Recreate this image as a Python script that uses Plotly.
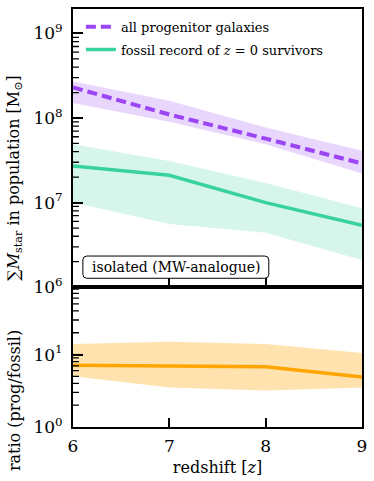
import math
import plotly.graph_objects as go
from plotly.subplots import make_subplots

# redshift bins
z = [6, 7, 8, 9]

# all progenitor galaxies (median + spread)
prog_med = [2.3e8, 1.1e8, 5.7e7, 2.9e7]
prog_lo = [1.5e8, 9.0e7, 4.9e7, 2.2e7]
prog_hi = [2.7e8, 1.6e8, 7.7e7, 4.1e7]

# fossil record of z=0 survivors
fos_med = [2.7e7, 2.1e7, 1.0e7, 5.4e6]
fos_lo = [1.0e7, 5.6e6, 4.4e6, 2.1e6]
fos_hi = [4.9e7, 3.1e7, 1.7e7, 8.6e6]

# ratio prog/fossil
rat_med = [7.1, 6.9, 6.8, 4.9]
rat_lo = [5.0, 3.5, 3.2, 3.5]
rat_hi = [14.0, 15.0, 14.0, 10.5]

# tick labels
top_major = [1e6, 1e7, 1e8, 1e9]
top_labels = ["10<sup>6</sup>", "10<sup>7</sup>", "10<sup>8</sup>", "10<sup>9</sup>"]
bot_major = [1, 10]
bot_labels = ["10<sup>0</sup>", "10<sup>1</sup>"]
top_minor = [m * 10 ** e for e in range(6, 10) for m in range(2, 10)]
bot_minor = [m * 10 ** e for e in range(0, 2) for m in range(2, 10)]

W, H = 374, 481
L, R, T, B = 73, 366, 7, 430
SPLIT = 288.5
FONT = "DejaVu Serif, Liberation Serif, serif"

def px(x):
    return (x - L) / (R - L)

def py(y):
    return (B - y) / (B - T)

purple = "#9b45f5"
green = "#38d39c"
orange = "#ffa500"

top_range = [6, 6 + (SPLIT - T) / 85.6]
bot_range = [0, (B - SPLIT) / 73.3]

fig = make_subplots(rows=2, cols=1, shared_xaxes=True, vertical_spacing=0,
                    row_heights=[1 - py(SPLIT), py(SPLIT)])

def band(lo, hi, fill, row):
    fig.add_trace(go.Scatter(x=z, y=hi, mode="lines", line=dict(width=0),
                             showlegend=False, hoverinfo="skip"), row=row, col=1)
    fig.add_trace(go.Scatter(x=z, y=lo, mode="lines", line=dict(width=0),
                             fill="tonexty", fillcolor=fill,
                             showlegend=False, hoverinfo="skip"), row=row, col=1)

band(prog_lo, prog_hi, "rgba(155,69,245,0.22)", 1)
band(fos_lo, fos_hi, "rgba(56,211,156,0.2)", 1)
band(rat_lo, rat_hi, "rgba(255,165,0,0.32)", 2)

fig.add_trace(go.Scatter(x=z, y=prog_med, mode="lines", name="all progenitor galaxies",
                         legend="legend",
                         line=dict(color=purple, width=4, dash="10px,5px")), row=1, col=1)
fig.add_trace(go.Scatter(x=z, y=fos_med, mode="lines",
                         name="fossil record of <i>z</i> = 0 survivors", legend="legend2",
                         line=dict(color=green, width=3.5)), row=1, col=1)
fig.add_trace(go.Scatter(x=z, y=rat_med, mode="lines", showlegend=False,
                         line=dict(color=orange, width=3.5)), row=2, col=1)

axis_common = dict(showline=True, linecolor="black", linewidth=2, mirror=True,
                   ticks="inside", tickcolor="black", tickwidth=1.5, showgrid=False,
                   zeroline=False, layer="above traces")

fig.update_xaxes(range=[6, 9], tickvals=z, ticklen=9, ticklabelstandoff=3,
                 tickfont=dict(family=FONT, size=17, color="black"), **axis_common)
fig.update_xaxes(showticklabels=False, row=1, col=1)
fig.update_xaxes(title=dict(text="redshift [<i>z</i>]", standoff=6,
                            font=dict(family=FONT, size=16, color="black")), row=2, col=1)

fig.update_yaxes(type="log", ticklen=10, ticklabelstandoff=5,
                 tickfont=dict(family=FONT, size=17, color="black"), **axis_common)
fig.update_yaxes(range=top_range, tickvals=top_major, ticktext=top_labels, row=1, col=1)
fig.update_yaxes(range=bot_range, tickvals=bot_major, ticktext=bot_labels, row=2, col=1)

# tick marks as path shapes (log minors + majors on the left spine, x ticks at the bottom)
def yticks_path(vals, rng, length):
    parts = []
    for v in vals:
        f = (math.log10(v) - rng[0]) / (rng[1] - rng[0])
        if 0 < f < 1:
            parts.append(f"M 0,{f:.5f} L {length / (R - L):.5f},{f:.5f}")
    return " ".join(parts)

tick_line = dict(color="black", width=1.3)
for yref, rng, minors, majors, h_px in (("y domain", top_range, top_minor, top_major, SPLIT - T),
                                          ("y2 domain", bot_range, bot_minor, bot_major, B - SPLIT)):
    fig.add_shape(type="path", xref="paper", yref=yref,
                  path=yticks_path(minors, rng, 6), line=tick_line)
    fig.add_shape(type="path", xref="paper", yref=yref,
                  path=yticks_path(majors, rng, 10), line=tick_line)
    xref = "x" if yref == "y domain" else "x2"
    xpath = " ".join(f"M {v},0 L {v},{9 / h_px:.5f}" for v in z[1:-1])
    fig.add_shape(type="path", xref=xref, yref=yref, path=xpath, line=tick_line)

leg = dict(xanchor="left", yanchor="middle", bgcolor="rgba(0,0,0,0)",
           font=dict(family=FONT, size=13, color="black"))
fig.update_layout(
    width=W, height=H,
    margin=dict(l=L, r=W - R, t=T, b=H - B),
    plot_bgcolor="white", paper_bgcolor="white",
    font=dict(family=FONT, color="black"),
    legend=dict(x=px(81), y=py(25), **leg),
    legend2=dict(x=px(81), y=py(48), **leg),
)

# y titles
fig.add_annotation(text="∑<i>M</i><sub>star</sub> in population [M<sub>⊙</sub>]",
                   xref="paper", yref="paper", x=px(14), y=py(178), textangle=-90,
                   xanchor="center", yanchor="middle",
                   showarrow=False, font=dict(family=FONT, size=16))
fig.add_annotation(text="ratio (prog/fossil)",
                   xref="paper", yref="paper", x=px(14), y=py(403), textangle=-90,
                   xanchor="center", yanchor="middle",
                   showarrow=False, font=dict(family=FONT, size=16))

# rounded label box
bx0, bx1, by0, by1, r = 83, 271.5, 257, 279.5, 4
rx, ry = r / (R - L), r / (B - T)
x0, x1, y0, y1 = px(bx0), px(bx1), py(by1), py(by0)
path = (f"M {x0+rx},{y0} L {x1-rx},{y0} Q {x1},{y0} {x1},{y0+ry} "
        f"L {x1},{y1-ry} Q {x1},{y1} {x1-rx},{y1} L {x0+rx},{y1} "
        f"Q {x0},{y1} {x0},{y1-ry} L {x0},{y0+ry} Q {x0},{y0} {x0+rx},{y0} Z")
fig.add_shape(type="path", path=path, xref="paper", yref="paper",
              line=dict(color="black", width=1), fillcolor="white")
fig.add_annotation(text="isolated (MW-analogue)", xref="paper", yref="paper",
                   x=px((bx0 + bx1) / 2), y=py((by0 + by1) / 2), showarrow=False,
                   font=dict(family=FONT, size=14))

fig.write_html("out.html", config={"displayModeBar": False},
               post_script="document.body.style.margin='0';"
                           "document.body.style.overflow='hidden';")
